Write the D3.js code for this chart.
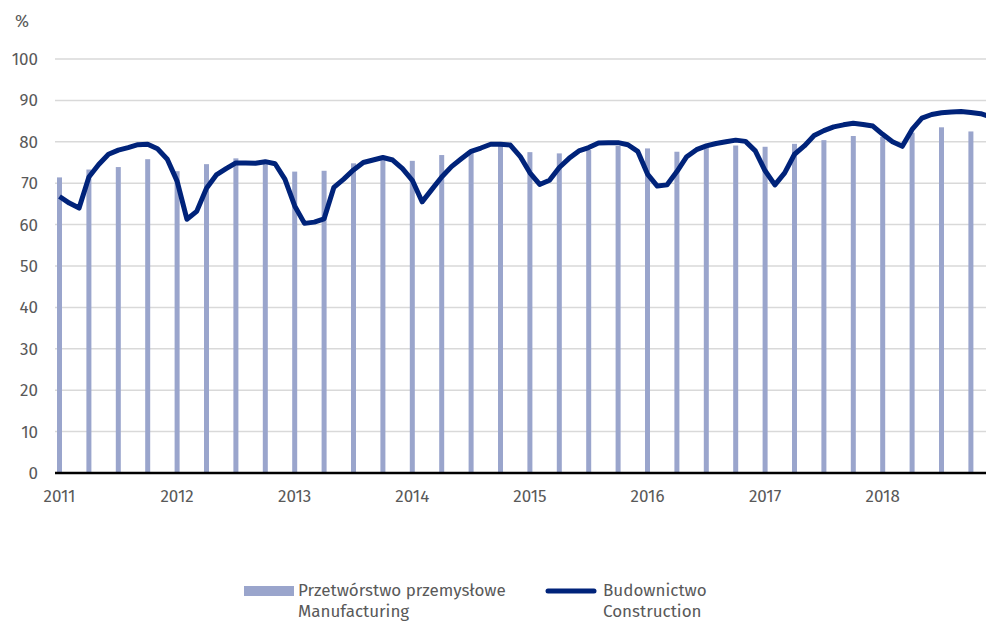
<!DOCTYPE html>
<html>
<head>
<meta charset="utf-8">
<script src="https://cdn.jsdelivr.net/npm/d3@7"></script>
<style>
  body { margin: 0; background: #fff; }
  text { font-family: "Fira Sans", "Open Sans", "Noto Sans", sans-serif; fill: #595959; }
</style>
</head>
<body>
<svg width="986" height="621"></svg>
<script>
// years shown on the axis
var years = ["2011","2012","2013","2014","2015","2016","2017","2018"]
var yTicks = [0,10,20,30,40,50,60,70,80,90,100]

// Budownictwo / Construction, monthly
var construction = [
  66.8,65.2,64.0,71.5,74.5,77.0,78.0,78.6,79.3,79.4,78.3,75.8,
  70.5,61.3,63.2,68.8,72.0,73.5,74.9,74.9,74.8,75.2,74.7,71.0,
  64.5,60.3,60.6,61.4,69.0,71.0,73.2,75.0,75.6,76.2,75.6,73.5,
  70.7,65.5,68.5,71.5,74.0,75.9,77.7,78.5,79.4,79.4,79.2,76.5,
  72.5,69.7,70.7,73.8,76.0,77.8,78.6,79.7,79.8,79.8,79.3,77.7,
  72.2,69.3,69.6,72.8,76.4,78.1,79.0,79.6,80.0,80.4,80.1,77.8,
  73.0,69.6,72.5,77.0,79.0,81.5,82.7,83.6,84.1,84.5,84.2,83.8,
  81.8,80.0,78.9,83.0,85.7,86.6,87.0,87.2,87.3,87.1,86.8,86.0
]

// Przetwórstwo przemysłowe / Manufacturing, quarterly
var manufacturing = [
  71.4,73.3,73.9,75.8,
  72.9,74.6,76.0,74.8,
  72.8,73.0,74.8,75.6,
  75.4,76.8,77.6,79.0,
  77.5,77.2,78.0,79.0,
  78.4,77.6,78.6,79.1,
  78.8,79.5,80.4,81.4,
  81.2,82.2,83.5,82.5
]

var months = []
years.forEach(y => { for (var m = 1; m <= 12; m++) months.push(y + "-" + (m < 10 ? "0" + m : m)) })
var quarters = months.filter((d, i) => i % 3 == 0)

var svg = d3.select("svg")

var x = d3.scalePoint().domain(months).range([59.5, 990.5])
var y = d3.scaleLinear().domain([0, 100]).range([473, 59])

// grid
svg.append("g")
  .selectAll("line")
  .data(yTicks.filter(d => d > 0))
  .enter()
  .append("line")
  .attr("x1", 55)
  .attr("x2", 986)
  .attr("y1", d => y(d))
  .attr("y2", d => y(d))
  .style("stroke", "#d9d9d9")
  .style("stroke-width", 1.5)

svg.append("g")
  .selectAll("text")
  .data(yTicks)
  .enter()
  .append("text")
  .attr("x", 38)
  .attr("y", d => y(d) + 6)
  .text(d => d)
  .style("text-anchor", "end")
  .style("font-size", "17px")

svg.append("text")
  .attr("x", 15)
  .attr("y", 27)
  .text("%")
  .style("font-size", "17px")

// bars
svg.append("g")
  .selectAll("rect")
  .data(manufacturing)
  .enter()
  .append("rect")
  .attr("x", (d, i) => x(quarters[i]) - 2.5)
  .attr("width", 5)
  .attr("y", d => y(d))
  .attr("height", d => y(0) - y(d))
  .style("fill", "#9aa5cc")

// axis line
svg.append("line")
  .attr("x1", 55).attr("x2", 986)
  .attr("y1", y(0)).attr("y2", y(0))
  .style("stroke", "#000")
  .style("stroke-width", 2.5)

svg.append("g")
  .selectAll("text")
  .data(years)
  .enter()
  .append("text")
  .attr("x", d => x(d + "-01"))
  .attr("y", 502)
  .text(d => d)
  .style("text-anchor", "middle")
  .style("font-size", "17px")

// line
var line = d3.line()
  .x((d, i) => x(months[i]))
  .y(d => y(d))

svg.append("path")
  .datum(construction)
  .attr("d", line)
  .style("fill", "none")
  .style("stroke", "#00237a")
  .style("stroke-width", 5)
  .style("stroke-linejoin", "round")

// legend
var leg = svg.append("g")
leg.append("rect")
  .attr("x", 244).attr("y", 586)
  .attr("width", 50).attr("height", 10)
  .style("fill", "#9aa5cc")
leg.append("text").attr("x", 298).attr("y", 596).text("Przetwórstwo przemysłowe").style("font-size", "17px")
leg.append("text").attr("x", 298).attr("y", 617).text("Manufacturing").style("font-size", "17px")

leg.append("line")
  .attr("x1", 548).attr("x2", 594)
  .attr("y1", 591).attr("y2", 591)
  .style("stroke", "#00237a")
  .style("stroke-width", 5)
  .style("stroke-linecap", "round")
leg.append("text").attr("x", 603).attr("y", 596).text("Budownictwo").style("font-size", "17px")
leg.append("text").attr("x", 603).attr("y", 617).text("Construction").style("font-size", "17px")
</script>
</body>
</html>
